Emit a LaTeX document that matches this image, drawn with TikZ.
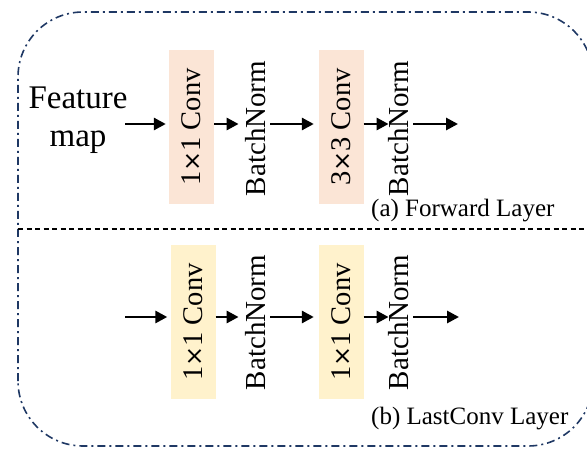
\documentclass[tikz,border=0pt]{standalone}
\usepackage{fontspec}
\setmainfont{Liberation Serif}
\newfontfamily\timesym{DejaVu Sans}
\newcommand{\mytimes}{{\timesym\fontsize{24}{26}\selectfont ×}}
\usetikzlibrary{arrows.meta}
\definecolor{peach}{RGB}{251,229,214}
\definecolor{lightyellow}{RGB}{255,242,204}
\definecolor{navy}{RGB}{31,56,100}
\begin{document}
\begin{tikzpicture}[x=1pt,y=1pt,
  convbox/.style={draw=none,minimum width=45pt,minimum height=154pt,inner sep=0pt,font=\fontsize{28.5}{30}\selectfont},
  bnnode/.style={inner sep=0pt,font=\fontsize{29}{30}\selectfont},
  arr/.style={line width=2.8pt,-{Triangle[length=12pt,width=12pt]}},
  lbl/.style={anchor=base west,inner sep=0pt,font=\fontsize{25}{27}\selectfont}]
\clip (0,0) rectangle (587,448);
% outer frame
\draw[navy,line width=1.6pt,dash pattern=on 8pt off 4pt on 2pt off 4pt,rounded corners=65pt]
  (18,2) rectangle (593,436);
% divider
\draw[line width=1.3pt,dash pattern=on 5pt off 3.5pt] (18,219) -- (587,219);
% row coordinates
\coordinate (r1) at (0,324);
\coordinate (r2) at (0,131);
\coordinate (in1) at (125,324);
\coordinate (in2) at (125,131);
\coordinate (out1) at (458,324);
\coordinate (out2) at (459,131);
% text
\node[align=center,inner sep=0pt,font=\fontsize{33}{38}\selectfont] (feat) at (78,328) {Feature\\map};
% row 1
\node[convbox,fill=peach] (c1) at (191.5,321) {\rotatebox{90}{1\mytimes1 Conv}};
\node[bnnode] (b1) at (256,319.5) {\rotatebox{90}{BatchNorm}};
\node[convbox,fill=peach] (c2) at (341,321) {\rotatebox{90}{3\mytimes3 Conv}};
\node[bnnode] (b2) at (399,319.5) {\rotatebox{90}{BatchNorm}};
% row 2
\node[convbox,fill=lightyellow] (c3) at (193,126) {\rotatebox{90}{1\mytimes1 Conv}};
\node[bnnode] (b3) at (256,125.5) {\rotatebox{90}{BatchNorm}};
\node[convbox,fill=lightyellow] (c4) at (341,126) {\rotatebox{90}{1\mytimes1 Conv}};
\node[bnnode] (b4) at (399,125.5) {\rotatebox{90}{BatchNorm}};
% arrows row 1
\draw[arr,shorten >=3pt] (in1) -- (c1.west |- r1);
\draw[arr,shorten >=7pt] (c1.east |- r1) -- (b1.west |- r1);
\draw[arr,shorten <=4pt,shorten >=4.5pt] (b1.east |- r1) -- (c2.west |- r1);
\draw[arr] (c2.east |- r1) -- (b2.west |- r1);
\draw[arr,shorten <=4pt] (b2.east |- r1) -- (out1);
% arrows row 2
\draw[arr,shorten >=3pt] (in2) -- (c3.west |- r2);
\draw[arr,shorten >=7pt] (c3.east |- r2) -- (b3.west |- r2);
\draw[arr,shorten <=4pt,shorten >=4.5pt] (b3.east |- r2) -- (c4.west |- r2);
\draw[arr] (c4.east |- r2) -- (b4.west |- r2);
\draw[arr,shorten <=4pt] (b4.east |- r2) -- (out2);
% labels
\node[lbl] (la) at (371,231) {(a) Forward Layer};
\node[lbl] (lb) at (371,24) {(b) LastConv Layer};
\end{tikzpicture}
\end{document}
